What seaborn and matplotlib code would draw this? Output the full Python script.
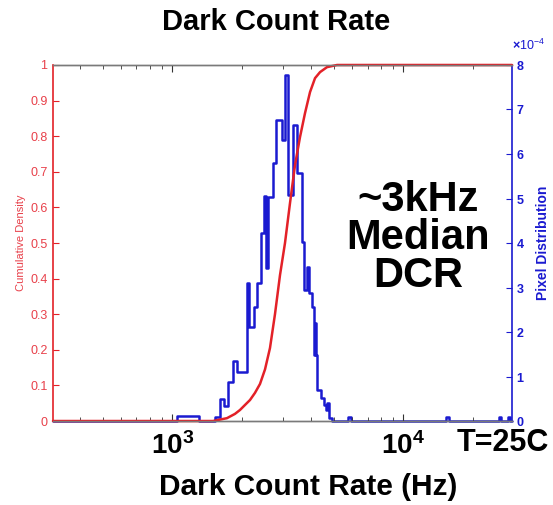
import matplotlib
matplotlib.use("Agg")
import matplotlib.pyplot as plt
import matplotlib.transforms as mtransforms
import numpy as np
import pandas as pd
import seaborn as sns
from matplotlib.ticker import LogLocator, NullFormatter, ScalarFormatter

# ---------------- data ----------------
x_limits_hz = [305, 29500]

# blue histogram: bin edges (Hz) and pixel density per bin (units of 1e-4 / Hz)
hist_edges_hz = [305, 1048, 1305, 1530, 1609, 1683, 1751, 1831, 1905, 2106,
                 2148, 2258, 2327, 2421, 2495, 2545, 2609, 2729, 2812, 2985,
                 3090, 3184, 3330, 3466, 3643, 3716, 3829, 3906, 4025, 4106,
                 4147, 4189, 4231, 4403, 4537, 4628, 4674, 4768, 4913, 5762,
                 5937, 15230, 15700, 25970, 26490, 28400, 28970, 29500]
hist_density_e4 = [0, 0.11, 0, 0.09, 0.49, 0.34, 0.88, 1.35, 1.10, 3.10,
                   2.11, 2.56, 3.10, 4.22, 5.06, 3.44, 5.03, 5.80, 6.77, 6.32,
                   7.78, 5.08, 6.65, 5.57, 4.02, 2.94, 3.46, 2.88, 2.56, 1.48,
                   2.20, 1.48, 0.70, 0.52, 0.36, 0.25, 0.40, 0.07, 0, 0.10,
                   0, 0.10, 0, 0.10, 0, 0.10, 0]

# red cumulative density
cdf_hz = [305, 1501, 1609, 1725, 1868, 1964, 2064, 2170, 2280, 2397, 2520,
          2648, 2783, 2926, 3075, 3232, 3398, 3572, 3754, 3946, 4147, 4359,
          4674, 5164, 29500]
cdf_val = [0, 0, 0.004, 0.008, 0.020, 0.031, 0.045, 0.059, 0.079, 0.104, 0.145,
           0.205, 0.300, 0.410, 0.500, 0.612, 0.719, 0.798, 0.865, 0.924, 0.963,
           0.980, 0.994, 1.0, 1.0]

x_major_ticks = [1e3, 1e4]
x_major_labels = ["$10^{3}$", "$10^{4}$"]
cdf_ticks = [0, 0.1, 0.2, 0.3, 0.4, 0.5, 0.6, 0.7, 0.8, 0.9, 1.0]
cdf_tick_labels = ["0", "0.1", "0.2", "0.3", "0.4", "0.5", "0.6", "0.7", "0.8", "0.9", "1"]
density_ticks = [0, 1e-4, 2e-4, 3e-4, 4e-4, 5e-4, 6e-4, 7e-4, 8e-4]

# ---------------- style ----------------
sns.set_theme(style="white")
plt.rcParams["font.family"] = ["Liberation Sans", "DejaVu Sans"]
plt.rcParams["text.color"] = "black"
plt.rcParams["axes.labelcolor"] = "black"
plt.rcParams["xtick.color"] = "black"
plt.rcParams["ytick.color"] = "black"
plt.rcParams["mathtext.fontset"] = "custom"
plt.rcParams["mathtext.rm"] = "Liberation Sans"
plt.rcParams["mathtext.bf"] = "Liberation Sans:bold"
plt.rcParams["mathtext.it"] = "Liberation Sans:italic"
plt.rcParams["mathtext.default"] = "bf"

RED = "#e32128"
RED_TXT = "#e8404a"
BLUE = "#1a1ad0"
GRAY = "#7a7a7a"

fig = plt.figure(figsize=(5.53, 5.05), dpi=100)
ax = fig.add_axes([0.0958, 0.1663, 0.8301, 0.7050])
ax.set_xscale("log")
ax2 = ax.twinx()

hist_df = pd.DataFrame({
    "hz": hist_edges_hz,
    "density": [v * 1e-4 for v in hist_density_e4] + [hist_density_e4[-1] * 1e-4],
})
cdf_df = pd.DataFrame({"hz": cdf_hz, "cdf": cdf_val})

sns.lineplot(data=hist_df, x="hz", y="density", ax=ax2, color=BLUE, lw=1.8,
             drawstyle="steps-post", estimator=None, sort=False)
sns.lineplot(data=cdf_df, x="hz", y="cdf", ax=ax, color=RED, lw=1.8,
             estimator=None, sort=False)
for ln in ax.lines + ax2.lines:
    ln.set_clip_on(False)

ax.set_zorder(2)
ax.patch.set_visible(False)
ax2.set_zorder(1)

ax.set_xlim(*x_limits_hz)
ax.set_ylim(0, 1)
ax2.set_ylim(0, 8e-4)

# spines
for a in (ax, ax2):
    for s in ("top", "bottom"):
        a.spines[s].set_color(GRAY)
        a.spines[s].set_linewidth(1.0)
ax.spines["left"].set_color(RED)
ax.spines["left"].set_linewidth(1.2)
ax.spines["right"].set_visible(False)
ax2.spines["left"].set_visible(False)
ax2.spines["right"].set_color(BLUE)
ax2.spines["right"].set_linewidth(1.2)

# x axis
ax.set_xticks(x_major_ticks)
ax.set_xticklabels(x_major_labels, fontsize=20, color="black")
ax.xaxis.set_minor_locator(LogLocator(base=10, subs=np.arange(2, 10)))
ax.xaxis.set_minor_formatter(NullFormatter())
ax.tick_params(axis="x", which="major", direction="in", top=True, bottom=True,
               length=5, width=0.8, color="#333333", pad=8)
ax.tick_params(axis="x", which="minor", direction="in", top=True, bottom=True,
               length=3, width=0.6, color="#333333")

# left axis
ax.set_yticks(cdf_ticks)
ax.set_yticklabels(cdf_tick_labels)
ax.tick_params(axis="y", direction="in", length=4, width=0.8, color=RED,
               labelcolor=RED_TXT, labelsize=9, pad=4, left=True, right=False)
ax.set_ylabel("Cumulative Density", color=RED_TXT, fontsize=8, labelpad=3)

# right axis
ax2.set_yticks(density_ticks)
fmt = ScalarFormatter(useMathText=True)
fmt.set_powerlimits((0, 0))
ax2.yaxis.set_major_formatter(fmt)
ax2.tick_params(axis="y", direction="in", length=4, width=0.8, color=BLUE,
                labelcolor=BLUE, labelsize=9, pad=3, right=True, left=False)
plt.setp(ax2.get_yticklabels(), fontweight="bold")
ot = ax2.yaxis.get_offset_text()
ot.set(color=BLUE, fontsize=9, ha="left")
ot.set_transform(ot.get_transform()
                 + mtransforms.ScaledTranslation(0, 8 / 72, fig.dpi_scale_trans))
ax2.set_ylabel("Pixel Distribution", color=BLUE, fontsize=10, fontweight="bold",
               labelpad=8)

# labels / annotations
ax.set_xlabel("Dark Count Rate (Hz)", fontsize=21.5, fontweight="bold",
              color="black")
ax.xaxis.set_label_coords(0.5556, -0.147)
fig.suptitle("Dark Count Rate", fontsize=21, fontweight="bold", x=0.5, y=0.957,
             va="center", color="black")
ax.text(0.88, -0.062, "T=25C", transform=ax.transAxes, fontsize=22,
        fontweight="bold", ha="left", va="center", color="black")
ax.text(0.795, 0.514, "~3kHz\nMedian\nDCR", transform=ax.transAxes, fontsize=30,
        fontweight="bold", ha="center", va="center", linespacing=0.95,
        color="black")

fig.savefig("out.png", dpi=100)
